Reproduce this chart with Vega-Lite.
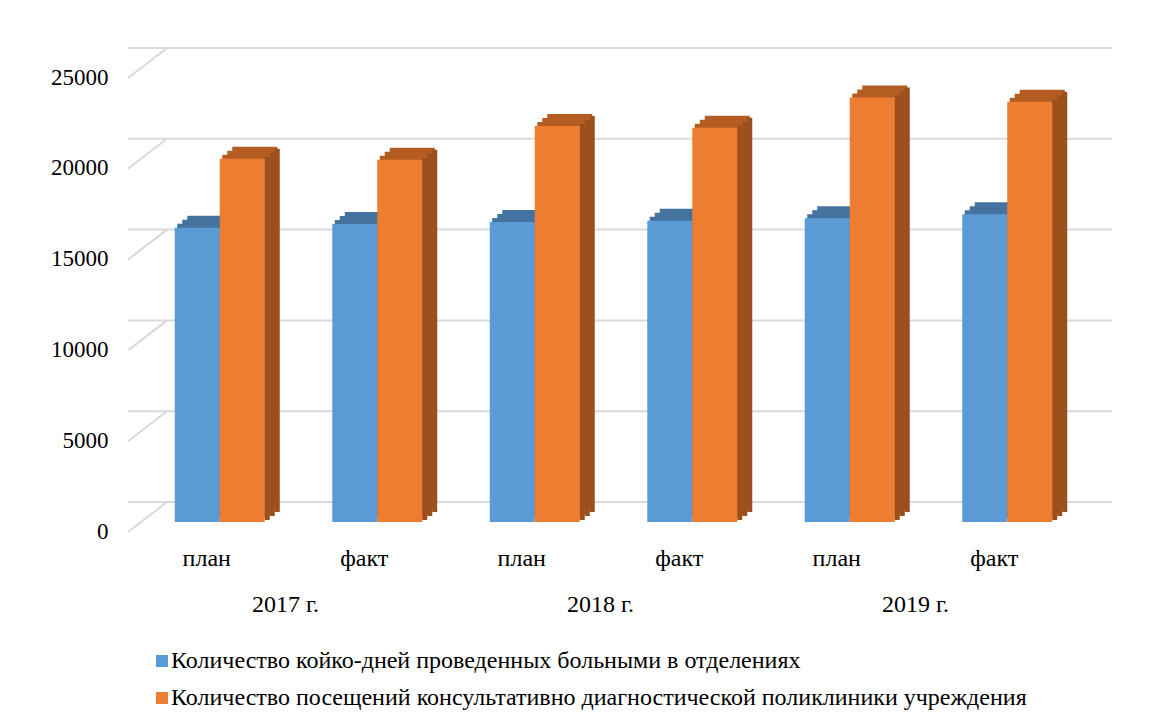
{
  "$schema": "https://vega.github.io/schema/vega-lite/v6.json",
  "autosize": {"type": "none"},
  "padding": {"left": 128, "top": 68, "right": 82, "bottom": 205},
  "width": 945,
  "height": 454,
  "background": "white",
  "config": {"view": {"stroke": null}, "font": "Liberation Serif"},
  "datasets": {
    "bars": [
      {"cat": "2017 г.|план", "year": "2017 г.", "type": "план", "s": "Количество койко-дней проведенных больными в отделениях", "v": 16200},
      {"cat": "2017 г.|план", "year": "2017 г.", "type": "план", "s": "Количество посещений консультативно диагностической поликлиники учреждения", "v": 20000},
      {"cat": "2017 г.|факт", "year": "2017 г.", "type": "факт", "s": "Количество койко-дней проведенных больными в отделениях", "v": 16410},
      {"cat": "2017 г.|факт", "year": "2017 г.", "type": "факт", "s": "Количество посещений консультативно диагностической поликлиники учреждения", "v": 19950},
      {"cat": "2018 г.|план", "year": "2018 г.", "type": "план", "s": "Количество койко-дней проведенных больными в отделениях", "v": 16520},
      {"cat": "2018 г.|план", "year": "2018 г.", "type": "план", "s": "Количество посещений консультативно диагностической поликлиники учреждения", "v": 21800},
      {"cat": "2018 г.|факт", "year": "2018 г.", "type": "факт", "s": "Количество койко-дней проведенных больными в отделениях", "v": 16590},
      {"cat": "2018 г.|факт", "year": "2018 г.", "type": "факт", "s": "Количество посещений консультативно диагностической поликлиники учреждения", "v": 21710},
      {"cat": "2019 г.|план", "year": "2019 г.", "type": "план", "s": "Количество койко-дней проведенных больными в отделениях", "v": 16720},
      {"cat": "2019 г.|план", "year": "2019 г.", "type": "план", "s": "Количество посещений консультативно диагностической поликлиники учреждения", "v": 23370},
      {"cat": "2019 г.|факт", "year": "2019 г.", "type": "факт", "s": "Количество койко-дней проведенных больными в отделениях", "v": 16940},
      {"cat": "2019 г.|факт", "year": "2019 г.", "type": "факт", "s": "Количество посещений консультативно диагностической поликлиники учреждения", "v": 23140}
    ],
    "grid": [{"g": 0}, {"g": 5000}, {"g": 10000}, {"g": 15000}, {"g": 20000}, {"g": 25000}]
  },
  "layer": [
    {
      "data": {"name": "grid"},
      "mark": {"type": "rule", "xOffset": 39, "x2Offset": 39, "yOffset": -20, "color": "#d9d9d9", "strokeWidth": 2},
      "encoding": {
        "y": {
          "field": "g", "type": "quantitative", "title": null,
          "scale": {"domain": [0, 25000], "nice": false, "zero": true},
          "axis": {"values": [0, 5000, 10000, 15000, 20000, 25000], "grid": false, "domain": false, "ticks": false, "labelPadding": 20, "labelOffset": 9, "labelFontSize": 23, "labelFont": "Liberation Serif", "labelColor": "#000000", "format": "d"}
        }
      }
    },
    {
      "data": {"name": "grid"},
      "mark": {"type": "rule", "yOffset": 10, "x2Offset": 39, "y2Offset": -20, "color": "#d9d9d9", "strokeWidth": 2},
      "encoding": {
        "x": {"datum": "2017 г.|план", "type": "nominal", "bandPosition": 0, "title": null},
        "x2": {"datum": "2017 г.|план", "bandPosition": 0},
        "y": {"field": "g", "type": "quantitative", "title": null},
        "y2": {"field": "g"}
      }
    },
    {
      "data": {"name": "bars"},
      "transform": [{"filter": "indexof(datum.s, 'койко') >= 0"}],
      "mark": {"type": "bar", "width": 45, "xOffset": 3, "yOffset": -12, "y2Offset": -12, "fill": "#4573A0"},
      "encoding": {"x": {"field": "cat", "type": "nominal", "title": null}, "y": {"field": "v", "type": "quantitative", "title": null}}
    },
    {
      "data": {"name": "bars"},
      "transform": [{"filter": "indexof(datum.s, 'койко') >= 0"}],
      "mark": {"type": "bar", "width": 45, "xOffset": -2, "yOffset": -8, "y2Offset": -8, "fill": "#4573A0"},
      "encoding": {"x": {"field": "cat", "type": "nominal", "title": null}, "y": {"field": "v", "type": "quantitative", "title": null}}
    },
    {
      "data": {"name": "bars"},
      "transform": [{"filter": "indexof(datum.s, 'койко') >= 0"}],
      "mark": {"type": "bar", "width": 45, "xOffset": -7, "yOffset": -4, "y2Offset": -4, "fill": "#4573A0"},
      "encoding": {"x": {"field": "cat", "type": "nominal", "title": null}, "y": {"field": "v", "type": "quantitative", "title": null}}
    },
    {
      "data": {"name": "bars"},
      "transform": [{"filter": "indexof(datum.s, 'койко') < 0"}],
      "mark": {"type": "bar", "width": 45, "xOffset": 48, "yOffset": -12, "y2Offset": -12, "fill": "#B45D22"},
      "encoding": {"x": {"field": "cat", "type": "nominal", "title": null}, "y": {"field": "v", "type": "quantitative", "title": null}}
    },
    {
      "data": {"name": "bars"},
      "transform": [{"filter": "indexof(datum.s, 'койко') < 0"}],
      "mark": {"type": "bar", "width": 45, "xOffset": 43, "yOffset": -8, "y2Offset": -8, "fill": "#B45D22"},
      "encoding": {"x": {"field": "cat", "type": "nominal", "title": null}, "y": {"field": "v", "type": "quantitative", "title": null}}
    },
    {
      "data": {"name": "bars"},
      "transform": [{"filter": "indexof(datum.s, 'койко') < 0"}],
      "mark": {"type": "bar", "width": 45, "xOffset": 38, "yOffset": -4, "y2Offset": -4, "fill": "#B45D22"},
      "encoding": {"x": {"field": "cat", "type": "nominal", "title": null}, "y": {"field": "v", "type": "quantitative", "title": null}}
    },
    {
      "data": {"name": "bars"},
      "transform": [{"filter": "indexof(datum.s, 'койко') < 0"}],
      "mark": {"type": "bar", "width": 5, "xOffset": 70.5, "yOffset": -10, "y2Offset": -10, "fill": "#9A4F1D"},
      "encoding": {"x": {"field": "cat", "type": "nominal", "title": null}, "y": {"field": "v", "type": "quantitative", "title": null}}
    },
    {
      "data": {"name": "bars"},
      "transform": [{"filter": "indexof(datum.s, 'койко') < 0"}],
      "mark": {"type": "bar", "width": 5, "xOffset": 65.5, "yOffset": -6, "y2Offset": -6, "fill": "#9A4F1D"},
      "encoding": {"x": {"field": "cat", "type": "nominal", "title": null}, "y": {"field": "v", "type": "quantitative", "title": null}}
    },
    {
      "data": {"name": "bars"},
      "transform": [{"filter": "indexof(datum.s, 'койко') < 0"}],
      "mark": {"type": "bar", "width": 5, "xOffset": 60.5, "yOffset": -2, "y2Offset": -2, "fill": "#9A4F1D"},
      "encoding": {"x": {"field": "cat", "type": "nominal", "title": null}, "y": {"field": "v", "type": "quantitative", "title": null}}
    },
    {
      "data": {"name": "bars"},
      "transform": [{"filter": "indexof(datum.s, 'койко') >= 0"}],
      "mark": {"type": "bar", "width": 45, "xOffset": -9.5},
      "encoding": {
        "x": {"field": "cat", "type": "nominal", "title": null},
        "y": {"field": "v", "type": "quantitative", "title": null},
        "color": {"field": "s", "type": "nominal"}
      }
    },
    {
      "data": {"name": "bars"},
      "transform": [{"filter": "indexof(datum.s, 'койко') < 0"}],
      "mark": {"type": "bar", "width": 45, "xOffset": 35.5},
      "encoding": {
        "x": {
          "field": "cat", "type": "nominal", "title": null, "sort": null,
          "scale": {"paddingInner": 0, "paddingOuter": 0},
          "axis": {"domain": false, "ticks": false, "grid": false, "labelAngle": 0, "labelAlign": "center", "labelBaseline": "top", "labelPadding": 24, "labelFontSize": 24, "labelFont": "Liberation Serif", "labelColor": "#000000", "labelExpr": "split(datum.value, '|')[1]"}
        },
        "y": {"field": "v", "type": "quantitative", "title": null},
        "color": {
          "field": "s", "type": "nominal",
          "scale": {"domain": ["Количество койко-дней проведенных больными в отделениях", "Количество посещений консультативно диагностической поликлиники учреждения"], "range": ["#5B9BD5", "#ED7D31"]},
          "legend": {"orient": "none", "legendX": 22, "legendY": 581, "title": null, "direction": "vertical", "symbolType": "square", "symbolSize": 144, "symbolStrokeWidth": 0, "labelFontSize": 24, "labelFont": "Liberation Serif", "labelColor": "#000000", "labelLimit": 0, "labelOffset": -3, "rowPadding": 13}
        }
      }
    },
    {
      "data": {"name": "bars"},
      "transform": [{"filter": "datum.type == 'факт' && indexof(datum.s, 'койко') >= 0"}],
      "mark": {"type": "text", "dy": 83, "fontSize": 24, "font": "Liberation Serif", "baseline": "middle", "align": "center", "color": "#000000"},
      "encoding": {
        "x": {"field": "cat", "type": "nominal", "bandPosition": 0, "title": null},
        "y": {"datum": 0, "type": "quantitative"},
        "text": {"field": "year"}
      }
    }
  ]
}
